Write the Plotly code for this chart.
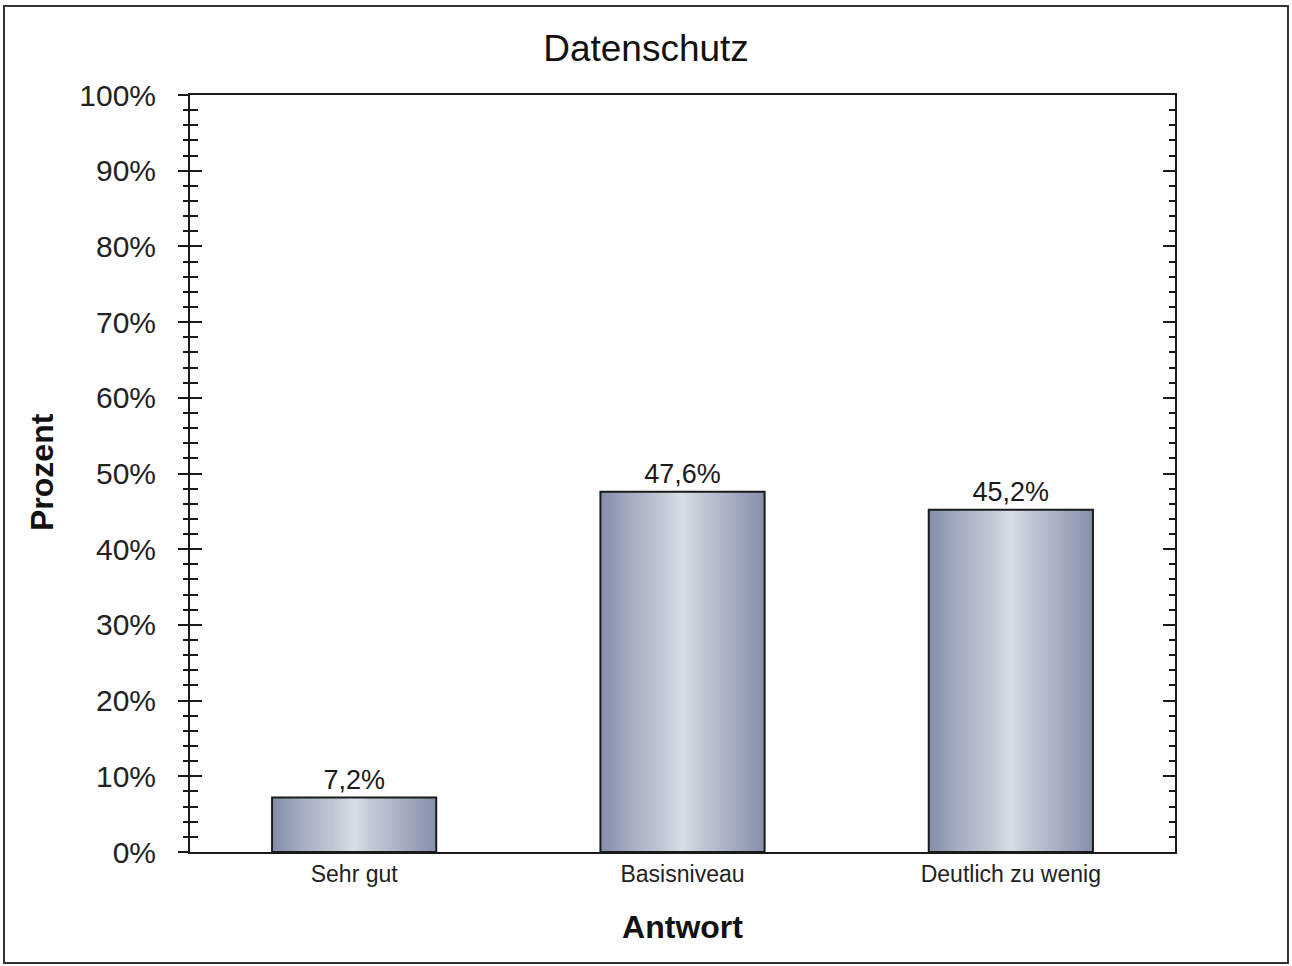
import plotly.graph_objects as go

# Datenschutz survey answers (percent)
categories = ["Sehr gut", "Basisniveau", "Deutlich zu wenig"]
values = [7.2, 47.6, 45.2]

# horizontal gradient across each bar: dark edges, light middle
stops = [(0.0, (0x84, 0x8d, 0xab)), (0.2, (0xa7, 0xb0, 0xc3)),
         (0.4, (0xc4, 0xcb, 0xd7)), (0.5, (0xda, 0xdf, 0xe7)),
         (0.6, (0xc4, 0xca, 0xd6)), (0.8, (0xa6, 0xae, 0xc2)),
         (1.0, (0x86, 0x8f, 0xac))]


def grad(t):
    for (t0, c0), (t1, c1) in zip(stops[:-1], stops[1:]):
        if t0 <= t <= t1:
            f = (t - t0) / (t1 - t0)
            return "rgb(%d,%d,%d)" % tuple(round(a + (b - a) * f) for a, b in zip(c0, c1))
    return "rgb(%d,%d,%d)" % stops[-1][1]


FONT = "Liberation Sans, Arial, sans-serif"
BAR_W = 0.5
N = 50
W_PX, H_PX = 1292, 966
L, R, T, B = 190, 117, 95, 114

fig = go.Figure()

# gradient slices
for i in range(N):
    w = BAR_W / N
    fig.add_trace(go.Bar(
        x=categories, y=values,
        width=w * 1.6 if i < N - 1 else w,
        offset=-BAR_W / 2 + i * w,
        marker=dict(color=grad((i + 0.5) / N), line=dict(width=0)),
        hoverinfo="skip", showlegend=False,
    ))

# outline + value labels
fig.add_trace(go.Bar(
    x=categories, y=values, width=BAR_W,
    marker=dict(color="rgba(0,0,0,0)", line=dict(color="#1a1a1a", width=2)),
    texttemplate="%{y:.1f}%", textposition="outside",
    textfont=dict(family=FONT, size=27, color="#1a1a1a"),
    cliponaxis=False, showlegend=False,
))

major_vals = list(range(0, 101, 10))
minor_vals = [v for v in range(0, 101, 2) if v % 10]

# extra tick-only axes: (side, direction, length, positions)
tick_axes = [
    ("right", "inside", 12, major_vals),
    ("left", "inside", 12, major_vals),
    ("left", "outside", 5, minor_vals),
    ("left", "inside", 8, minor_vals),
    ("right", "inside", 6, minor_vals),
]

base = dict(range=[0, 100], showgrid=False, zeroline=False,
            linecolor="#1a1a1a", linewidth=2,
            tickcolor="#1a1a1a", tickwidth=2, fixedrange=True)

layout_axes = {}
for k, (side, direction, length, vals) in enumerate(tick_axes, start=2):
    layout_axes["yaxis%d" % k] = dict(
        **base, overlaying="y", side=side, ticks=direction, ticklen=length,
        tickmode="array", tickvals=vals, showticklabels=False, showline=True)
    # invisible helper trace so the axis gets drawn
    fig.add_trace(go.Scatter(x=categories, y=values, yaxis="y%d" % k,
                             mode="none", hoverinfo="skip", showlegend=False))

fig.update_layout(
    width=W_PX, height=H_PX,
    margin=dict(l=L, r=R, t=T, b=B),
    paper_bgcolor="white", plot_bgcolor="white",
    barmode="overlay",
    separators=",.",
    font=dict(family=FONT, color="#1a1a1a"),
    title=dict(text="Datenschutz", x=0.5, xanchor="center", y=1 - 48 / H_PX,
               yanchor="middle", font=dict(family=FONT, size=37, color="#111")),
    xaxis=dict(showline=True, linecolor="#1a1a1a", linewidth=2, mirror=True,
               ticks="", showgrid=False, fixedrange=True,
               tickfont=dict(family=FONT, size=23, color="#222"),
               title=dict(text="<b>Antwort</b>", standoff=30,
                          font=dict(family=FONT, size=32, color="#111"))),
    yaxis=dict(**base, side="left", showline=True, ticks="outside",
               ticklen=10, tickmode="array", tickvals=major_vals,
               ticktext=["%d%%" % v for v in major_vals],
               ticklabelstandoff=16,
               tickfont=dict(family=FONT, size=30, color="#222")),
    **layout_axes,
)

pw, ph = W_PX - L - R, H_PX - T - B

# y axis title placed by hand so it sits close to the page edge
fig.add_annotation(text="<b>Prozent</b>", xref="paper", yref="paper",
                   x=(42 - L) / pw, y=(H_PX - B - 472) / ph, textangle=-90,
                   showarrow=False, xanchor="center", yanchor="middle",
                   font=dict(family=FONT, size=32, color="#111"))

# outer frame of the image
fig.add_shape(type="rect", xref="paper", yref="paper",
              x0=(4 - L) / pw, x1=(1288 - L) / pw,
              y0=(H_PX - B - 963) / ph, y1=(H_PX - B - 6) / ph,
              line=dict(color="#333", width=2), fillcolor="rgba(0,0,0,0)",
              layer="below")

fig.write_html("out.html", config={"displayModeBar": False},
               post_script="document.body.style.margin='0';")
